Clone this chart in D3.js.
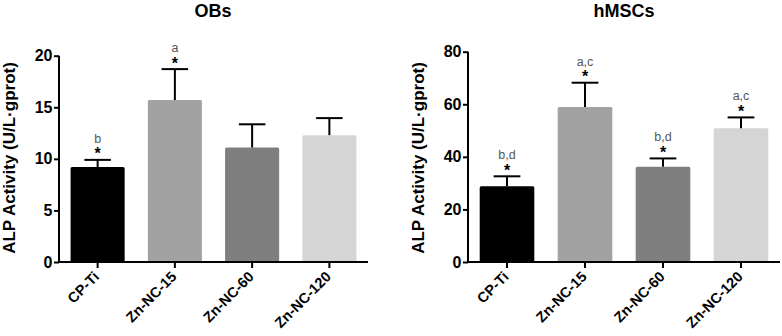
<html>
<head>
<meta charset="UTF-8"/>
<script src="https://d3js.org/d3.v7.min.js"></script>
<style>
body{ margin:0; background:#fff; }
svg{ font-family:'Liberation Sans', Arial, sans-serif; }
.tick text{ font-weight:bold; fill:#000; }
</style>
</head>
<body>
<svg id='chart' width=782 height=336></svg>
<script>
'use strict';
var groups = ['CP-Ti', 'Zn-NC-15', 'Zn-NC-60', 'Zn-NC-120'];
var colors = ['#000000', '#a2a2a2', '#7f7f7f', '#d5d5d5'];

var obsMean = [9.2, 15.7, 11.1, 12.3];
var obsErr  = [0.7, 3.0, 2.25, 1.65];
var obsMark = ['b', 'a', '', ''];
var obsTicks = [0, 5, 10, 15, 20];

var hmscMean = [28.8, 59.0, 36.2, 50.9];
var hmscErr  = [3.8, 9.2, 3.2, 4.1];
var hmscMark = ['b,d', 'a,c', 'b,d', 'a,c'];
var hmscTicks = [0, 20, 40, 60, 80];

var svg = d3.select('#chart');

function panel(opt){
    var g = svg.append('g');
    var sy = d3.scaleLinear().domain([0, opt.max]).range([262, opt.top]);
    var sx = d3.scaleBand().domain(groups).range([opt.x0, opt.x1]).paddingInner(0.3).paddingOuter(0.15);

    // bars
    g.selectAll('rect.bar').data(groups).enter()
        .append('rect')
        .attr('x', function(d){ return sx(d); })
        .attr('y', function(d, i){ return sy(opt.mean[i]); })
        .attr('width', sx.bandwidth())
        .attr('height', function(d, i){ return sy(0) - sy(opt.mean[i]); })
        .attr('rx', 1.5)
        .attr('fill', function(d, i){ return colors[i]; });

    // error bars (upper only) + significance marks
    var cap = sx.bandwidth() * 0.245;
    groups.forEach(function(d, i){
        var cx = sx(d) + sx.bandwidth() / 2;
        var top = sy(opt.mean[i] + opt.err[i]);
        g.append('line').attr('x1', cx).attr('x2', cx)
            .attr('y1', sy(opt.mean[i])).attr('y2', top)
            .attr('stroke', '#000').attr('stroke-width', 2);
        g.append('line').attr('x1', cx - cap).attr('x2', cx + cap)
            .attr('y1', top).attr('y2', top)
            .attr('stroke', '#000').attr('stroke-width', 2);
        if(opt.mark[i]){
            g.append('text').attr('x', cx).attr('y', top - 0.5)
                .attr('text-anchor', 'middle')
                .style('font-size', '16px').style('font-weight', 'bold')
                .text('*');
            g.append('text').attr('x', cx).attr('y', top - 17)
                .attr('text-anchor', 'middle')
                .style('font-size', '12.5px').attr('fill', '#555')
                .text(opt.mark[i]);
        }
    });

    var yAxis = d3.axisLeft(sy).tickValues(opt.ticks).tickSize(5).tickPadding(1.5);
    var ya = g.append('g').attr('transform', 'translate(' + opt.x0 + ',0)').call(yAxis);
    ya.select('.domain').attr('stroke-width', 2).attr('d', 'M0,' + sy(opt.max) + 'V' + (sy(0) + 1));
    ya.selectAll('.tick line').attr('stroke-width', 2);
    ya.selectAll('.tick text').style('font-size', '16px');

    var xAxis = d3.axisBottom(sx).tickSize(6).tickSizeOuter(0);
    var xa = g.append('g').attr('transform', 'translate(0,' + sy(0) + ')').call(xAxis);
    xa.select('.domain').attr('stroke-width', 2).attr('d', 'M' + (opt.x0 - 1) + ',0H' + opt.x1);
    xa.selectAll('.tick line').attr('stroke-width', 2);
    xa.selectAll('.tick text')
        .style('font-size', '14.5px')
        .attr('x', 0).attr('y', 0)
        .attr('text-anchor', 'end')
        .attr('dy', '0.35em')
        .attr('transform', 'translate(-1,12) rotate(-45)');

    g.append('text').attr('x', opt.titleX).attr('y', 17)
        .attr('text-anchor', 'middle')
        .style('font-size', '18px').style('font-weight', 'bold')
        .text(opt.title);

    g.append('text')
        .attr('transform', 'translate(' + opt.labelX + ',158) rotate(-90)')
        .attr('text-anchor', 'middle')
        .style('font-size', '17px').style('font-weight', 'bold')
        .text('ALP Activity (U/L\u00b7gprot)');
}

panel({ x0: 59, x1: 368, top: 55.7, max: 20, ticks: obsTicks, mean: obsMean, err: obsErr,
        mark: obsMark, title: 'OBs', titleX: 213, labelX: 15 });
panel({ x0: 468, x1: 780, top: 51.7, max: 80, ticks: hmscTicks, mean: hmscMean, err: hmscErr,
        mark: hmscMark, title: 'hMSCs', titleX: 624, labelX: 424 });
</script>
</body>
</html>
